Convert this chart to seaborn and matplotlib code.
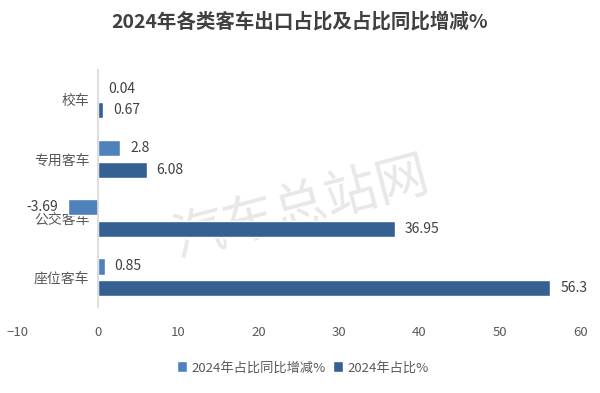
import pandas as pd
import seaborn as sns
import matplotlib.pyplot as plt

categories = ['校车', '专用客车', '公交客车', '座位客车']
series_names = ['2024年占比同比增减%', '2024年占比%']
change_yoy = [0.04, 2.8, -3.69, 0.85]
share_2024 = [0.67, 6.08, 36.95, 56.3]
x_ticks = [-10, 0, 10, 20, 30, 40, 50, 60]

df = pd.DataFrame({
    'cat': categories * 2,
    'series': [series_names[0]] * 4 + [series_names[1]] * 4,
    'val': change_yoy + share_2024,
})

sns.set_theme(style='white')
plt.rcParams['font.family'] = ['Noto Sans CJK SC', 'DejaVu Sans']

fig = plt.figure(figsize=(6, 3.93), dpi=100)
ax = fig.add_axes([0.029, 0.219, 0.938, 0.603])
ax.patch.set_alpha(0)

# watermark, behind the bars
ax.text(0.5, 0.47, '汽车总站网', transform=fig.transFigure, fontsize=38,
        color='#e8e8e8', rotation=15, ha='center', va='center', zorder=0)

sns.barplot(data=df, y='cat', x='val', hue='series', orient='h',
            palette=['#4f81bd', '#366092'], width=0.73, gap=0.25, saturation=1,
            ax=ax, legend=True, zorder=2)

for c in ax.containers:
    ax.bar_label(c, labels=[f'{v:g}' for v in c.datavalues], padding=7,
                 fontsize=10, color='#404040')

ax.set_xlim(-10, 60)
ax.set_ylim(3.5, -0.5)
ax.set_xticks(x_ticks)
ax.set_xlabel('')
ax.set_ylabel('')
ax.tick_params(axis='x', length=0, pad=14, labelsize=9.5, labelcolor='#595959')
ax.tick_params(axis='y', length=0, pad=6, labelsize=10, labelcolor='#595959')
for s in ['top', 'right', 'bottom']:
    ax.spines[s].set_visible(False)
ax.spines['left'].set_position(('data', 0))
ax.spines['left'].set_color('#d9d9d9')

handles, labels = ax.get_legend_handles_labels()
ax.get_legend().remove()
fig.legend(handles, labels, loc='center', bbox_to_anchor=(0.505, 0.064), ncol=2,
           frameon=False, fontsize=9.5, handlelength=0.75, handleheight=0.9,
           handletextpad=0.3, columnspacing=0.6, labelcolor='#595959')

fig.text(0.5, 0.945, '2024年各类客车出口占比及占比同比增减%', ha='center', va='center',
         fontsize=14, fontweight='bold', color='#404040')

fig.savefig('out.png', dpi=100)
